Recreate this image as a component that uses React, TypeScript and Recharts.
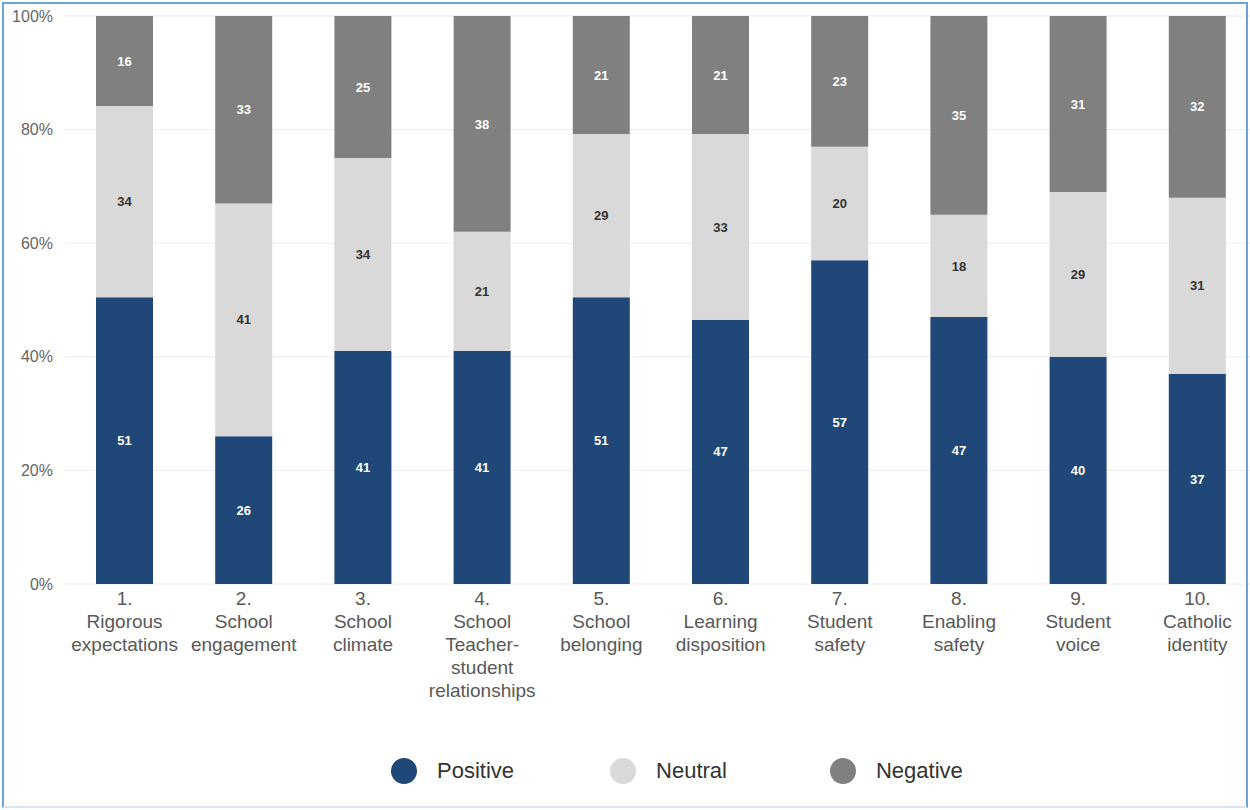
import React from "react";
import { BarChart, Bar, XAxis, YAxis, CartesianGrid, Legend, LabelList } from "recharts";

const categories = [
  "1.\nRigorous\nexpectations",
  "2.\nSchool\nengagement",
  "3.\nSchool\nclimate",
  "4.\nSchool\nTeacher-\nstudent\nrelationships",
  "5.\nSchool\nbelonging",
  "6.\nLearning\ndisposition",
  "7.\nStudent\nsafety",
  "8.\nEnabling\nsafety",
  "9.\nStudent\nvoice",
  "10.\nCatholic\nidentity",
];
const positive = [51, 26, 41, 41, 51, 47, 57, 47, 40, 37];
const neutral = [34, 41, 34, 21, 29, 33, 20, 18, 29, 31];
const negative = [16, 33, 25, 38, 21, 21, 23, 35, 31, 32];
const yTicks = [0, 0.2, 0.4, 0.6, 0.8, 1];

const seriesInfo = [
  { key: "Positive", color: "#1f4778", label: "#ffffff" },
  { key: "Neutral", color: "#d9d9d9", label: "#333333" },
  { key: "Negative", color: "#808080", label: "#ffffff" },
];
const legendGaps = [96, 103, 0];

const data = categories.map((c, i) => ({
  name: c,
  Positive: positive[i],
  Neutral: neutral[i],
  Negative: negative[i],
}));

const FONT = "'Liberation Sans', Arial, sans-serif";

const XTick = (props: any) => {
  const { x, y, payload } = props;
  const lines = String(payload.value).split("\n");
  return (
    <text x={x} y={y} textAnchor="middle" fill="#595959" fontSize={19} fontFamily={FONT}>
      {lines.map((l, i) => (
        <tspan key={i} x={x} dy={i === 0 ? 21 : 23}>
          {l}
        </tspan>
      ))}
    </text>
  );
};

const LegendContent = () => (
  <div
    style={{
      height: 80,
      width: 1250,
      display: "flex",
      alignItems: "flex-start",
      paddingTop: 28,
      paddingLeft: 391,
      boxSizing: "border-box",
      fontFamily: FONT,
    }}
  >
    {seriesInfo.map((s, i) => (
      <div
        key={s.key}
        style={{ display: "flex", alignItems: "center", marginRight: legendGaps[i], height: 26 }}
      >
        <div style={{ width: 26, height: 26, borderRadius: 13, background: s.color }} />
        <span style={{ marginLeft: 20, fontSize: 22, color: "#333333" }}>{s.key}</span>
      </div>
    ))}
  </div>
);

export default function App() {
  return (
    <div
      style={{
        position: "absolute",
        left: 0,
        top: 0,
        width: 1250,
        height: 810,
        overflow: "hidden",
        background: "#fff",
      }}
    >
      <BarChart
        width={1257}
        height={810}
        data={data}
        stackOffset="expand"
        margin={{ top: 16, right: 0, left: 0, bottom: 0 }}
        barSize={57}
      >
        <CartesianGrid vertical={false} stroke="#ececec" />
        <XAxis
          dataKey="name"
          interval={0}
          tick={<XTick />}
          tickLine={false}
          axisLine={false}
          tickSize={0}
          tickMargin={0}
          height={146}
        />
        <YAxis
          width={65}
          ticks={yTicks}
          domain={[0, 1]}
          tickFormatter={(v: number) => `${Math.round(v * 100)}%`}
          tick={{ fill: "#666666", fontSize: 16, fontFamily: FONT }}
          tickLine={false}
          axisLine={false}
          tickSize={0}
          tickMargin={12}
        />
        <Legend
          verticalAlign="bottom"
          content={<LegendContent />}
          wrapperStyle={{ left: 0, width: 1250, height: 80 }}
        />
        {seriesInfo.map((s) => (
          <Bar key={s.key} dataKey={s.key} stackId="a" fill={s.color} isAnimationActive={false}>
            <LabelList
              dataKey={s.key}
              position="center"
              fill={s.label}
              fontSize={13}
              fontWeight="bold"
              fontFamily={FONT}
            />
          </Bar>
        ))}
      </BarChart>
      <div
        style={{
          position: "absolute",
          left: 2,
          top: 2,
          width: 1246,
          height: 806,
          boxSizing: "border-box",
          borderTop: "2px solid #6aa3de",
          borderLeft: "2px solid #6aa3de",
          borderRight: "2px solid #6aa3de",
          borderBottom: "2px solid #dae5f2",
          pointerEvents: "none",
        }}
      />
    </div>
  );
}
